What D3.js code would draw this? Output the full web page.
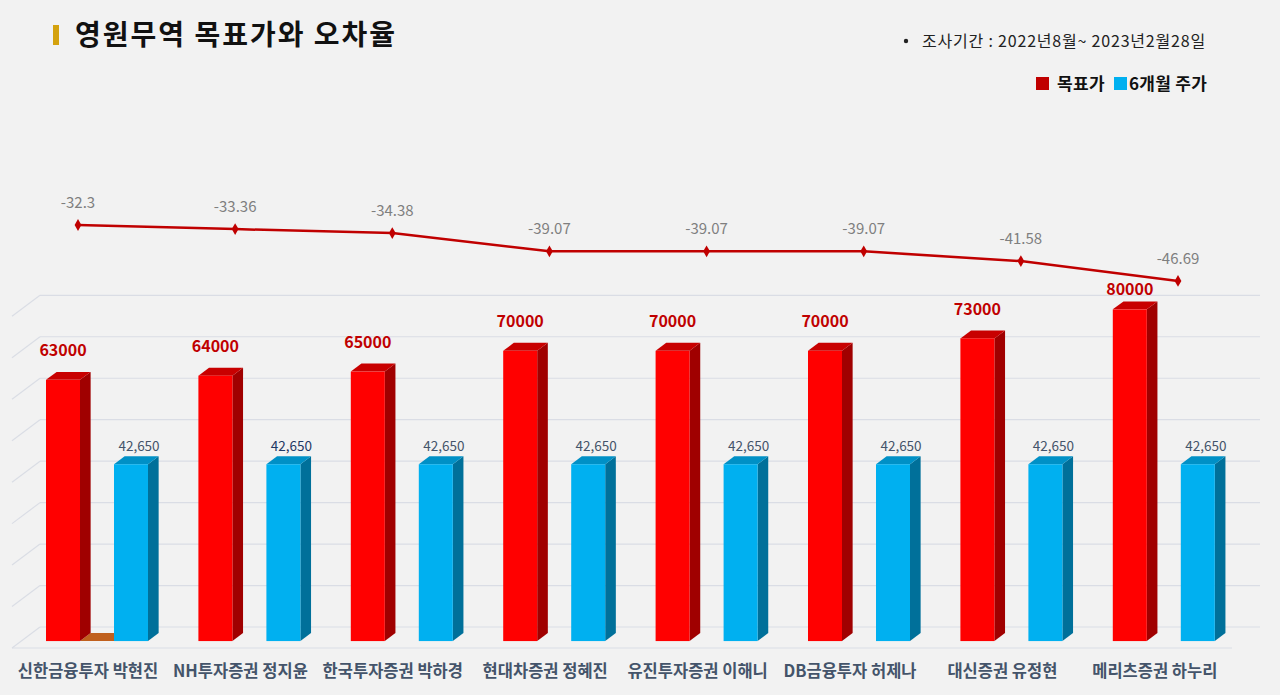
<!DOCTYPE html>
<html>
<head>
<meta charset="utf-8">
<script src="https://cdn.jsdelivr.net/npm/d3@7"></script>
<style>
  html, body { margin: 0; padding: 0; background: #f2f2f2; }
  svg { display: block; }
  text { font-family: "Noto Sans CJK KR", "Noto Sans", sans-serif; }
</style>
</head>
<body>
<svg id="chart" width="1280" height="695"></svg>
<script>
// ---- data ----
const categories = ["신한금융투자 박현진", "NH투자증권 정지윤", "한국투자증권 박하경", "현대차증권 정혜진",
                    "유진투자증권 이해니", "DB금융투자 허제나", "대신증권 유정현", "메리츠증권 하누리"];
const targetPrice = [63000, 64000, 65000, 70000, 70000, 70000, 73000, 80000];
const stockPrice = [42650, 42650, 42650, 42650, 42650, 42650, 42650, 42650];
const errorRate = [-32.3, -33.36, -34.38, -39.07, -39.07, -39.07, -41.58, -46.69];
const gridTicks = [0, 10000, 20000, 30000, 40000, 50000, 60000, 70000, 80000];
const seriesNames = ["목표가", "6개월 주가"];
const titleText = "영원무역 목표가와 오차율";
const periodText = "조사기간 : 2022년8월~ 2023년2월28일";

// ---- layout ----
const svg = d3.select("#chart");
const W = 1280, H = 695;
svg.append("rect").attr("width", W).attr("height", H).attr("fill", "#f2f2f2");

// 3D depth: front plane z=0 -> back plane z=1
const DX = 28, DY = -21;
const y = d3.scaleLinear().domain([0, 80000]).range([648, 316.3]); // front plane
const yAt = (v, z) => y(v) + DY * z;
const xAt = (x, z) => x + DX * z;

// grid: back wall + left wall diagonals
const grid = svg.append("g");
gridTicks.forEach(t => {
  const yb = yAt(t, 1);
  grid.append("line").attr("x1", xAt(12, 1)).attr("x2", 1260).attr("y1", yb).attr("y2", yb)
    .attr("stroke", "#dadde5").attr("stroke-width", 1.2);
  grid.append("line").attr("x1", 12).attr("y1", y(t)).attr("x2", xAt(12, 1)).attr("y2", yb)
    .attr("stroke", "#dadde5").attr("stroke-width", 1.2);
});
// floor front edge
grid.append("line").attr("x1", 12).attr("x2", 1232).attr("y1", y(0)).attr("y2", y(0))
  .attr("stroke", "#dadde5").attr("stroke-width", 1.2);

// bars
const x = d3.scaleBand().domain(categories).range([46, 46 + 7 * 152.4 + 102]).paddingInner(0.3307).paddingOuter(0);
const xs = d3.scaleBand().domain([0, 1]).range([0, x.bandwidth()]).paddingInner(0.5);
const z0 = 0.33, z1 = 0.71;
const colors = [
  { front: "#ff0000", top: "#c80000", side: "#a00000" },
  { front: "#00b0f0", top: "#0090c6", side: "#00709a" }
];
const series = [targetPrice, stockPrice];

const barsG = svg.append("g");
function drawBar(g, xl, w, v, c) {
  const yF = yAt(v, z0), yB = yAt(v, z1), y0F = yAt(0, z0), y0B = yAt(0, z1);
  const xr = xl + w, dxz = DX * (z1 - z0);
  g.append("path").attr("d", `M${xr},${yF}L${xr + dxz},${yB}L${xr + dxz},${y0B}L${xr},${y0F}Z`).attr("fill", c.side);
  g.append("path").attr("d", `M${xl},${yF}L${xl + dxz},${yB}L${xr + dxz},${yB}L${xr},${yF}Z`).attr("fill", c.top);
  g.append("rect").attr("x", xl).attr("y", yF).attr("width", w).attr("height", y0F - yF).attr("fill", c.front);
}

// small orange floor piece in first group
{
  const xl = x(categories[0]) + xs.bandwidth(), xr = x(categories[0]) + xs(1);
  const dxz = DX * (z1 - z0);
  barsG.append("path").attr("d",
    `M${xl},${yAt(0, z0)}L${xl + dxz},${yAt(0, z1)}L${xr + dxz},${yAt(0, z1)}L${xr},${yAt(0, z0)}Z`)
    .attr("fill", "#c0601e");
}

categories.forEach((c, i) => {
  [0, 1].forEach(s => {
    drawBar(barsG, x(c) + xs(s), xs.bandwidth(), series[s][i], colors[s]);
  });
});

// bar labels (clamped to plot area top)
categories.forEach((c, i) => {
  const xr = x(c) + xs(0) + xs.bandwidth() / 2;
  const ty = Math.max(yAt(targetPrice[i], z1) - 15.5, 295);
  svg.append("text").attr("x", xr).attr("y", ty)
    .attr("text-anchor", "middle").attr("font-size", 16).attr("font-weight", 700)
    .attr("fill", "#c00000").text(targetPrice[i]);
  const xb = x(c) + xs(1) + xs.bandwidth() / 2 + 8;
  svg.append("text").attr("x", xb).attr("y", yAt(stockPrice[i], z1) - 5.5)
    .attr("text-anchor", "middle").attr("font-size", 13.5)
    .attr("fill", i === 1 ? "#1f3864" : "#44546a").text(d3.format(",")(stockPrice[i]));
});

// line (error rate)
const xl = d3.scalePoint().domain(categories).range([78, 1178]);
const yl = d3.scaleLinear().domain([-30, -50]).range([216.05, 293.85]);
svg.append("path").datum(errorRate)
  .attr("d", d3.line().x((d, i) => xl(categories[i])).y(d => yl(d)))
  .attr("fill", "none").attr("stroke", "#c00000").attr("stroke-width", 2.5);
svg.append("g").selectAll("path").data(errorRate).join("path")
  .attr("d", d3.symbol(d3.symbolDiamond, 40))
  .attr("transform", (d, i) => `translate(${xl(categories[i])},${yl(d)})`)
  .attr("fill", "#c00000");
svg.append("g").selectAll("text").data(errorRate).join("text")
  .attr("x", (d, i) => xl(categories[i])).attr("y", d => yl(d) - 17)
  .attr("text-anchor", "middle").attr("font-size", 15).attr("fill", "#7f7f7f")
  .text(d => d);

// x labels
const xlab = d3.scalePoint().domain(categories).range([88, 88 + 7 * 152.4]);
svg.append("g").selectAll("text").data(categories).join("text")
  .attr("x", d => xlab(d)).attr("y", 677)
  .attr("text-anchor", "middle").attr("font-size", 16.5).attr("font-weight", 600)
  .attr("fill", "#44546a").text(d => d);

// title
svg.append("rect").attr("x", 53).attr("y", 25).attr("width", 6).attr("height", 20).attr("fill", "#d4a20e");
svg.append("text").attr("x", 75).attr("y", 45).attr("font-size", 28).attr("font-weight", 700)
  .attr("letter-spacing", 2).attr("fill", "#111").text(titleText);

// period
svg.append("circle").attr("cx", 906).attr("cy", 41).attr("r", 2.2).attr("fill", "#222");
svg.append("text").attr("x", 922).attr("y", 47).attr("font-size", 16).attr("letter-spacing", 0.8)
  .attr("fill", "#222").text(periodText);

// legend
svg.append("rect").attr("x", 1036).attr("y", 77).attr("width", 13).attr("height", 13).attr("fill", "#c00000");
svg.append("text").attr("x", 1057).attr("y", 90).attr("font-size", 17).attr("font-weight", 700)
  .attr("letter-spacing", 0.3).attr("fill", "#111").text(seriesNames[0]);
svg.append("rect").attr("x", 1114).attr("y", 77).attr("width", 13).attr("height", 13).attr("fill", "#00b0f0");
svg.append("text").attr("x", 1129).attr("y", 90).attr("font-size", 17).attr("font-weight", 700)
  .attr("letter-spacing", 0.3).attr("fill", "#111").text(seriesNames[1]);
</script>
</body>
</html>
